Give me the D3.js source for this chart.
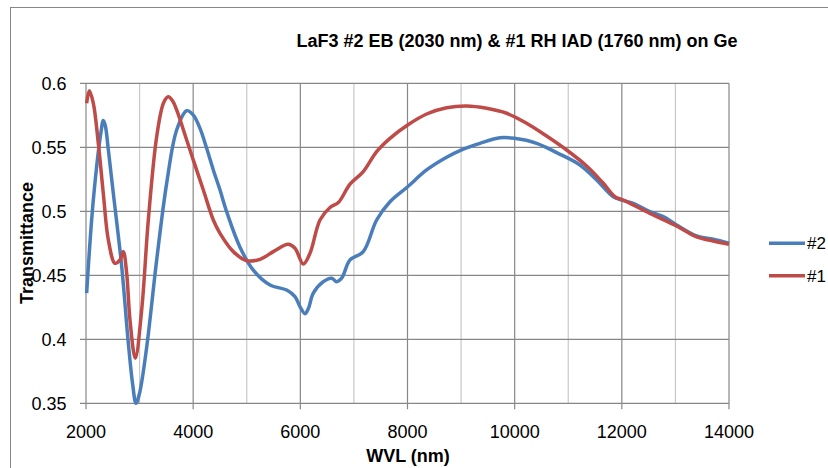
<!DOCTYPE html>
<html>
<head>
<meta charset="utf-8">
<script src="https://cdn.jsdelivr.net/npm/d3@7"></script>
<style>
	body { margin: 0; background: #fff; }
	svg { display: block; font-family: "Liberation Sans", Arial, sans-serif; }
</style>
</head>
<body>
<svg id="chart" width="828" height="468"></svg>
<script>

// #2 EB (blue)
var wvl2 = [2012, 2137, 2280, 2323, 2360, 2417, 2510, 2666, 2790, 2870, 2933, 3000, 3133, 3319, 3506, 3692, 3879, 4003, 4128, 4252, 4376, 4501, 4625, 4874, 5122, 5434, 5745, 5900, 6000, 6087, 6150, 6242, 6429, 6585, 6678, 6771, 6927, 7175, 7424, 7673, 8003, 8357, 8730, 9010, 9352, 9726, 9993, 10411, 10784, 11219, 11530, 11841, 11996, 12213, 12524, 12773, 13022, 13395, 13706, 14000];
var trans2 = [.436, .509, .562, .571, .567, .548, .514, .457, .397, .365, .350, .358, .394, .462, .522, .5635, .5786, .5752, .5648, .5492, .5323, .5166, .4997, .472, .454, .4424, .4385, .4333, .425, .420, .424, .436, .445, .4477, .445, .4477, .462, .4685, .4932, .5075, .5192, .5323, .5422, .548, .5531, .5575, .557, .5531, .5458, .5362, .5245, .5114, .5088, .5062, .4997, .4958, .4893, .4807, .4781, .475];

// #1 RH IAD (red)
var wvl1 = [2012, 2062, 2137, 2230, 2323, 2417, 2541, 2635, 2697, 2759, 2821, 2920, 3039, 3163, 3319, 3450, 3536, 3620, 3692, 3879, 4003, 4190, 4376, 4501, 4749, 4998, 5247, 5496, 5776, 5900, 6056, 6180, 6367, 6554, 6709, 6927, 7175, 7424, 7673, 8003, 8357, 8730, 9103, 9476, 9850, 10223, 10596, 10970, 11343, 11654, 11872, 12027, 12524, 13022, 13395, 13706, 14000];
var trans1 = [.5844, .5942, .5844, .553, .514, .4776, .4594, .462, .4685, .4516, .415, .3852, .4229, .4932, .5583, .585, .5895, .586, .5792, .5557, .540, .5166, .4932, .4828, .4685, .4614, .4625, .4685, .4742, .4711, .4588, .4672, .4932, .5030, .5068, .5212, .531, .5466, .557, .5674, .576, .5809, .5823, .5805, .5766, .5688, .5588, .5479, .5354, .5219, .5114, .5088, .4984, .4885, .480, .4768, .4742];

var xTicks = [2000, 4000, 6000, 8000, 10000, 12000, 14000];
var xMinor = [3000, 5000, 7000, 9000, 11000, 13000];
var yTicks = [0.35, 0.4, 0.45, 0.5, 0.55, 0.6];

var seriesNames = ['#2', '#1'];
var seriesColors = ['#4a7ebb', '#be4b48'];

var svg = d3.select('#chart');

var x = d3.scaleLinear().domain([2000, 14000]).range([86, 729]);
var y = d3.scaleLinear().domain([0.35, 0.6]).range([403.3, 83.3]);

var gridColor = '#878787';

// chart frame
svg.append('rect')
	.attr('x', 10.5).attr('y', 7.5)
	.attr('width', 840).attr('height', 480)
	.style('fill', 'none')
	.style('stroke', gridColor)
	.style('stroke-width', 1);

// minor vertical grid (lighter)
svg.append('g').selectAll('line')
	.data(xMinor).enter().append('line')
	.attr('x1', function (d) { return x(d); })
	.attr('x2', function (d) { return x(d); })
	.attr('y1', y(0.6)).attr('y2', y(0.35))
	.style('stroke', '#c8c8c8')
	.style('stroke-width', 1.2);

// major vertical grid
svg.append('g').selectAll('line')
	.data(xTicks).enter().append('line')
	.attr('x1', function (d) { return x(d); })
	.attr('x2', function (d) { return x(d); })
	.attr('y1', y(0.6)).attr('y2', y(0.35) + 6)
	.style('stroke', gridColor)
	.style('stroke-width', 1.2);

// horizontal grid
svg.append('g').selectAll('line')
	.data(yTicks).enter().append('line')
	.attr('x1', x(2000) - 6).attr('x2', x(14000))
	.attr('y1', function (d) { return y(d); })
	.attr('y2', function (d) { return y(d); })
	.style('stroke', gridColor)
	.style('stroke-width', 1.2);

// y tick labels
svg.append('g').selectAll('text')
	.data(yTicks).enter().append('text')
	.attr('x', 66.5)
	.attr('y', function (d) { return y(d) + 6.5; })
	.attr('text-anchor', 'end')
	.style('font-size', '18px')
	.style('fill', '#000')
	.text(function (d) { return String(d); });

// x tick labels
svg.append('g').selectAll('text')
	.data(xTicks).enter().append('text')
	.attr('x', function (d) { return x(d); })
	.attr('y', 437.5)
	.attr('text-anchor', 'middle')
	.style('font-size', '18px')
	.style('fill', '#000')
	.text(function (d) { return String(d); });

// curves
var line = d3.line()
	.x(function (d) { return x(d[0]); })
	.y(function (d) { return y(d[1]); })
	.curve(d3.curveCatmullRom.alpha(0.5));

var data2 = d3.zip(wvl2, trans2),
	data1 = d3.zip(wvl1, trans1);

[data2, data1].forEach(function (pts, i) {
	svg.append('path')
		.attr('d', line(pts))
		.style('fill', 'none')
		.style('stroke', seriesColors[i])
		.style('stroke-width', 3.5)
		.style('stroke-linejoin', 'round');
});

// title
svg.append('text')
	.attr('x', 517).attr('y', 47)
	.attr('text-anchor', 'middle')
	.style('font-size', '18px')
	.style('font-weight', 'bold')
	.text('LaF3 #2 EB (2030 nm) & #1 RH IAD (1760 nm) on Ge');

// axis titles
svg.append('text')
	.attr('x', 408).attr('y', 462)
	.attr('text-anchor', 'middle')
	.style('font-size', '18px')
	.style('font-weight', 'bold')
	.text('WVL (nm)');

svg.append('text')
	.attr('transform', 'translate(33,243) rotate(-90)')
	.attr('text-anchor', 'middle')
	.style('font-size', '18px')
	.style('font-weight', 'bold')
	.text('Transmittance');

// legend
var legend = svg.append('g');
seriesNames.forEach(function (name, i) {
	var ly = 243.3 + i * 32.4;
	legend.append('line')
		.attr('x1', 769).attr('x2', 805)
		.attr('y1', ly).attr('y2', ly)
		.style('stroke', seriesColors[i])
		.style('stroke-width', 3.5);
	legend.append('text')
		.attr('x', 807).attr('y', ly + 6)
		.style('font-size', '17px')
		.text(name);
});

</script>
</body>
</html>
